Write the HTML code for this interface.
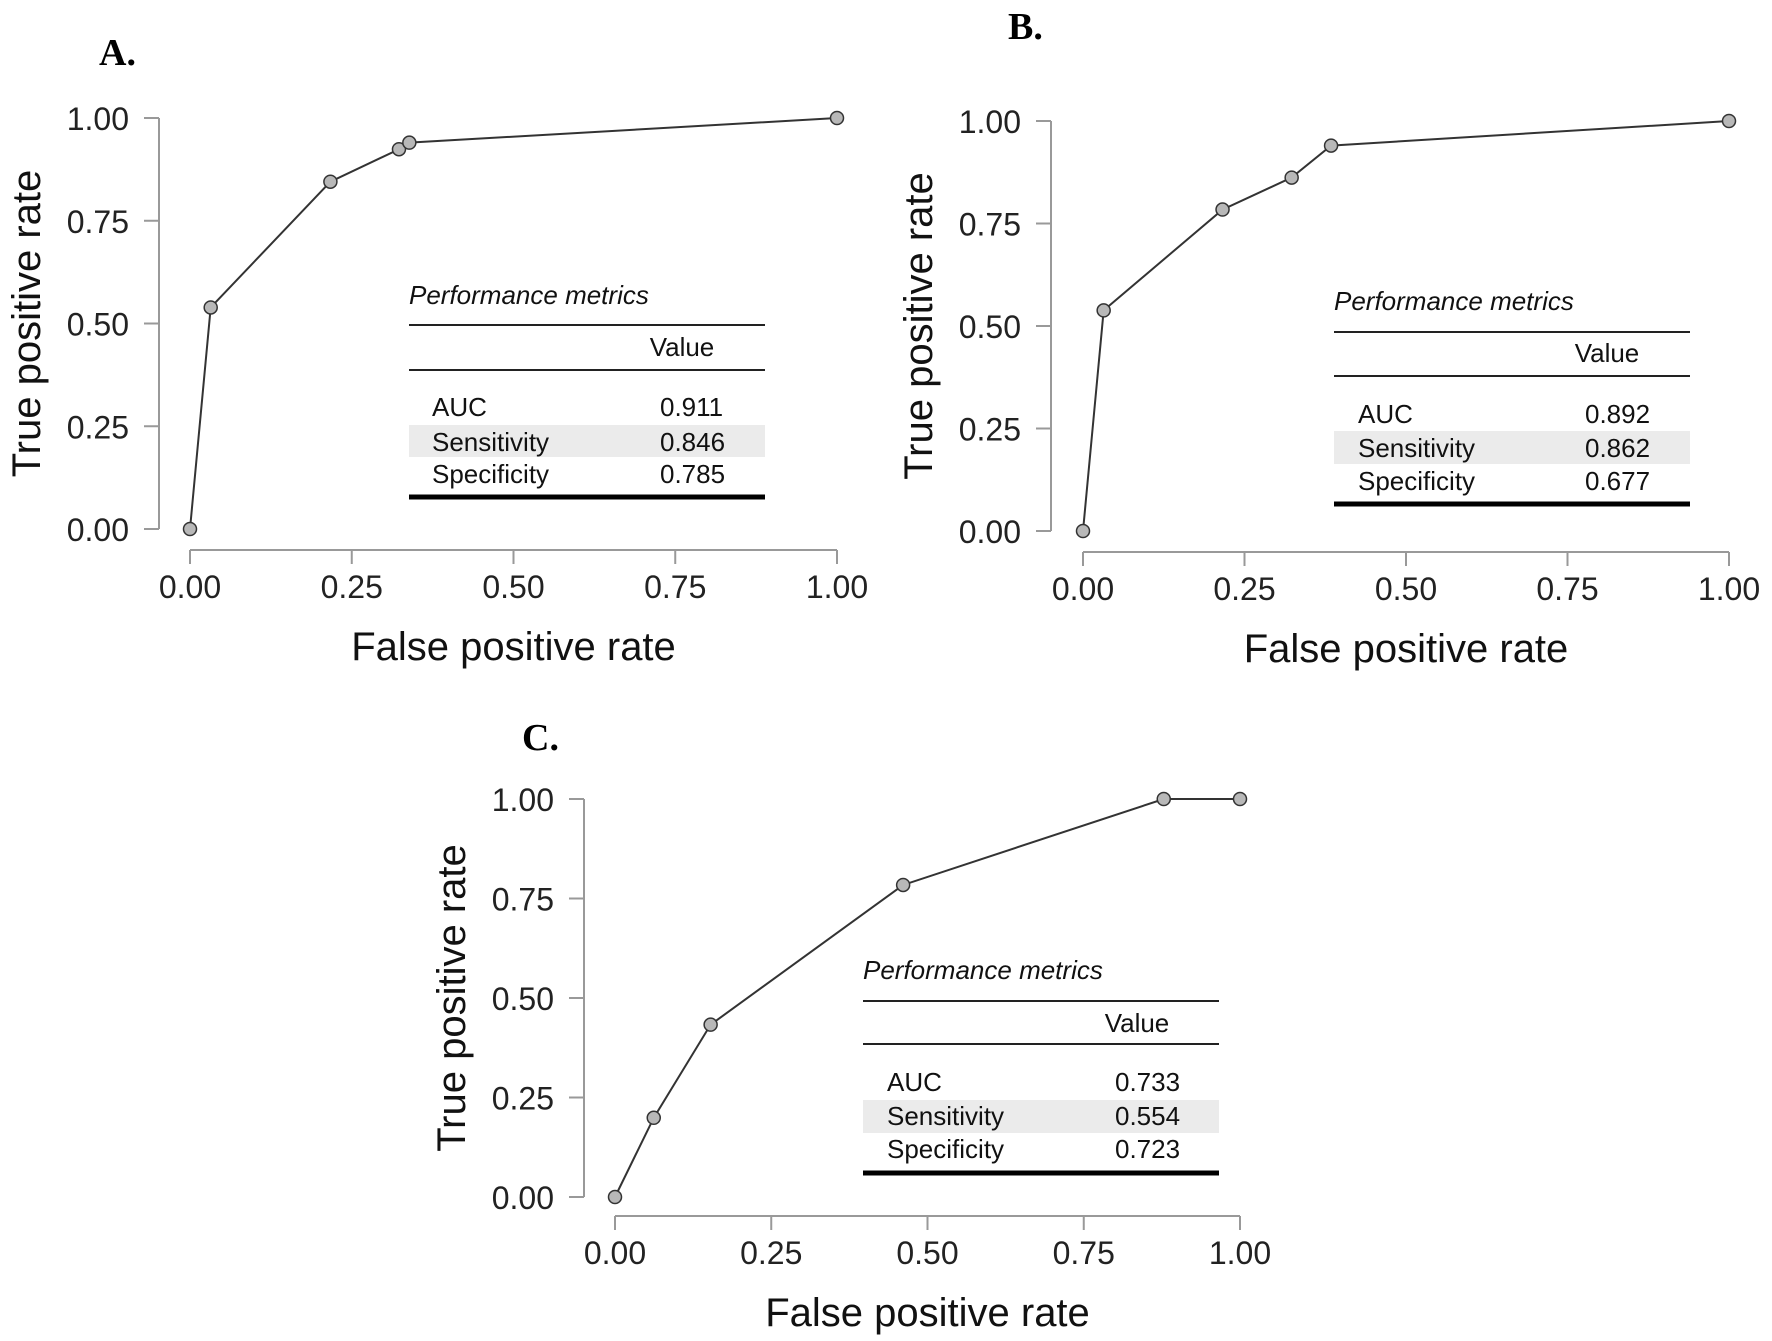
<!DOCTYPE html>
<html><head><meta charset="utf-8"><style>
html,body{margin:0;padding:0;background:#fff;overflow:hidden;}
svg{display:block;font-family:"Liberation Sans",sans-serif;}
</style></head><body>
<svg id="fig" width="1772" height="1341" viewBox="0 0 1772 1341" xmlns="http://www.w3.org/2000/svg"></svg>
<script>
const ticks = [0, 0.25, 0.5, 0.75, 1];
const tickLabels = ["0.00", "0.25", "0.50", "0.75", "1.00"];
const fprA = [0, 0.032, 0.217, 0.323, 0.339, 1];
const tprA = [0, 0.539, 0.845, 0.924, 0.94, 1];
const fprB = [0, 0.032, 0.216, 0.323, 0.384, 1];
const tprB = [0, 0.538, 0.784, 0.862, 0.94, 1];
const fprC = [0, 0.062, 0.153, 0.461, 0.878, 1];
const tprC = [0, 0.199, 0.433, 0.784, 1, 1];
const metricNames = ["AUC", "Sensitivity", "Specificity"];
const metricsA = ["0.911", "0.846", "0.785"];
const metricsB = ["0.892", "0.862", "0.677"];
const metricsC = ["0.733", "0.554", "0.723"];

const NS = "http://www.w3.org/2000/svg";
const svg = document.getElementById('fig');
function mk(tag, attrs, parent, text){
  const e = document.createElementNS(NS, tag);
  for (const k in attrs) e.setAttribute(k, attrs[k]);
  if (text !== undefined) e.textContent = text;
  (parent || svg).appendChild(e);
  return e;
}

const panels = [
  {id:'a', label:'A.', lx:99, ly:65, x0:190, x1:837, y0:529, y1:118, yAxisX:159, xAxisY:550, fpr:fprA, tpr:tprA, vals:metricsA,
   t:{x:409, x2:765, title:304, l1:325, vb:356, l2:370, rows:[416,451,483], sh:[425,457], thick:497, lab:432, val:660}},
  {id:'b', label:'B.', lx:1008, ly:39, x0:1083, x1:1729, y0:531, y1:121, yAxisX:1051, xAxisY:552, fpr:fprB, tpr:tprB, vals:metricsB,
   t:{x:1334, x2:1690, title:310, l1:332, vb:362, l2:376, rows:[423,457,490], sh:[431,464], thick:504, lab:1358, val:1585}},
  {id:'c', label:'C.', lx:522, ly:750, x0:615, x1:1240, y0:1197, y1:799, yAxisX:584, xAxisY:1216, fpr:fprC, tpr:tprC, vals:metricsC,
   t:{x:863, x2:1219, title:979, l1:1001, vb:1032, l2:1044, rows:[1091,1125,1158], sh:[1100,1133], thick:1173, lab:887, val:1115}}
];

panels.forEach(p => {
  const g = mk('g', {});
  
  
  const sx = v => p.x0 + v * (p.x1 - p.x0);
  const sy = v => p.y0 + v * (p.y1 - p.y0);

  const lab = mk('text', {x:p.lx, y:p.ly, 'font-family':'"Liberation Serif",serif', 'font-weight':'bold', 'font-size':38, fill:'#000'}, g, p.label);
  
  

  const ya = mk('g', {}, g);
  
  
  mk('line', {x1:p.yAxisX, x2:p.yAxisX, y1:sy(0), y2:sy(1), stroke:'#999', 'stroke-width':2}, ya);
  ticks.forEach((t, i) => {
    mk('line', {x1:p.yAxisX - 15, x2:p.yAxisX, y1:sy(t), y2:sy(t), stroke:'#999', 'stroke-width':2}, ya);
    const tl = mk('text', {x:p.yAxisX - 30, y:sy(t) + 12, 'text-anchor':'end', 'font-size':32, fill:'#222'}, ya, tickLabels[i]);
    
    
  });
  const yt = mk('text', {x:0, y:0, 'text-anchor':'middle', 'font-size':40, fill:'#111',
    transform:`translate(${p.yAxisX - 119},${(sy(0)+sy(1))/2}) rotate(-90)`}, g, 'True positive rate');
  
  

  const xa = mk('g', {}, g);
  
  
  mk('line', {x1:sx(0), x2:sx(1), y1:p.xAxisY, y2:p.xAxisY, stroke:'#999', 'stroke-width':2}, xa);
  ticks.forEach((t, i) => {
    mk('line', {x1:sx(t), x2:sx(t), y1:p.xAxisY, y2:p.xAxisY + 14, stroke:'#999', 'stroke-width':2}, xa);
    const tl = mk('text', {x:sx(t), y:p.xAxisY + 48, 'text-anchor':'middle', 'font-size':32, fill:'#222'}, xa, tickLabels[i]);
    
    
  });
  const xt = mk('text', {x:(sx(0)+sx(1))/2, y:p.xAxisY + 110, 'text-anchor':'middle', 'font-size':40, fill:'#111'}, g, 'False positive rate');
  
  

  const pts = p.fpr.map((f, i) => sx(f) + ',' + sy(p.tpr[i])).join(' ');
  const line = mk('polyline', {points:pts, fill:'none', stroke:'#333', 'stroke-width':2}, g);
  
  
  p.fpr.forEach((f, i) => {
    const c = mk('circle', {cx:sx(f), cy:sy(p.tpr[i]), r:6.5, fill:'#b8b8b8', stroke:'#333', 'stroke-width':1.5}, g);
    
    
  });

  const t = p.t;
  const tb = mk('g', {}, g);
  
  
  mk('rect', {x:t.x, y:t.sh[0], width:t.x2 - t.x, height:t.sh[1] - t.sh[0], fill:'#ebebeb'}, tb);
  mk('text', {x:t.x, y:t.title, 'font-size':26, 'font-style':'italic', fill:'#111'}, tb, 'Performance metrics');
  mk('line', {x1:t.x, x2:t.x2, y1:t.l1, y2:t.l1, stroke:'#222', 'stroke-width':2}, tb);
  mk('text', {x:t.val + 22, y:t.vb, 'text-anchor':'middle', 'font-size':26, fill:'#111'}, tb, 'Value');
  mk('line', {x1:t.x, x2:t.x2, y1:t.l2, y2:t.l2, stroke:'#222', 'stroke-width':2}, tb);
  metricNames.forEach((n, i) => {
    mk('text', {x:t.lab, y:t.rows[i], 'font-size':26, fill:'#111'}, tb, n);
    mk('text', {x:t.val, y:t.rows[i], 'font-size':26, fill:'#111'}, tb, p.vals[i]);
  });
  mk('line', {x1:t.x, x2:t.x2, y1:t.thick, y2:t.thick, stroke:'#000', 'stroke-width':5}, tb);
});
</script>
</body></html>
